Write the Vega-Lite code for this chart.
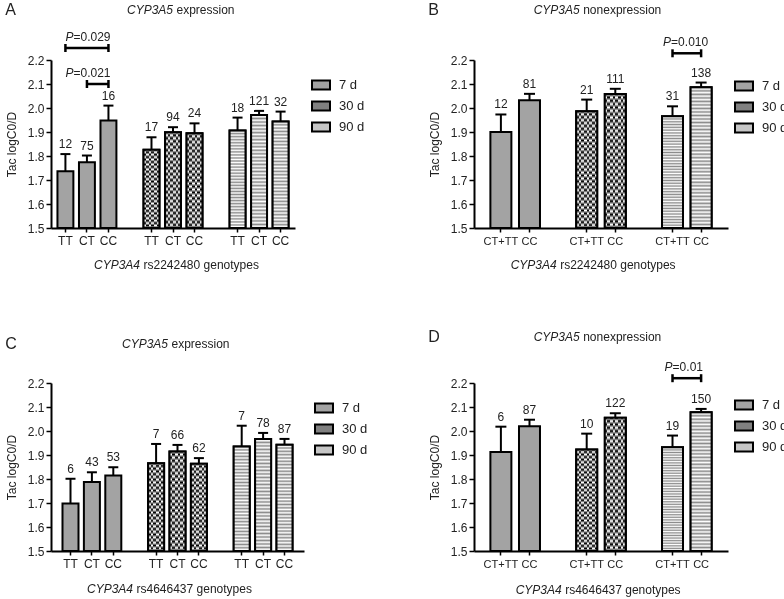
{
  "$schema": "https://vega.github.io/schema/vega-lite/v6.json",
  "background": "white",
  "padding": {"top": 2, "left": 5, "right": 5, "bottom": 5},
  "config": {
    "font": "Liberation Sans",
    "view": {"stroke": null},
    "axis": {"grid": false, "domainColor": "black", "domainWidth": 2, "tickColor": "black", "tickWidth": 1.5, "labelColor": "#222", "titleColor": "#222", "labelFont": "Liberation Sans", "titleFont": "Liberation Sans", "labelFontSize": 12, "titleFontSize": 12, "titleFontWeight": "normal", "labelOverlap": false},
    "axisY": {"tickSize": 5, "labelPadding": 2, "titlePadding": 9, "tickCount": 8, "format": ".1f"},
    "axisX": {"tickSize": 4, "labelPadding": 3, "labelAngle": 0},
    "legend": {"labelFont": "Liberation Sans", "labelFontSize": 13, "labelColor": "#222", "symbolType": "M-1,-0.5H1V0.5H-1Z", "symbolSize": 324, "symbolStrokeColor": "black", "symbolStrokeWidth": 2, "rowPadding": 2, "labelOffset": 8},
    "text": {"font": "Liberation Sans", "fontSize": 12, "color": "#222"},
    "title": {"font": "Liberation Sans", "fontSize": 16, "fontWeight": "normal", "color": "#222", "anchor": "start", "frame": "bounds", "baseline": "top", "offset": 0, "dy": 18}
  },
  "datasets": {
    "barsA": [
      {"slot": "7 d|TT", "period": "7 d", "mean": 1.736, "upper": 1.808, "n": 12},
      {"slot": "7 d|CT", "period": "7 d", "mean": 1.774, "upper": 1.802, "n": 75},
      {"slot": "7 d|CC", "period": "7 d", "mean": 1.948, "upper": 2.010, "n": 16},
      {"slot": "30 d|TT", "period": "30 d", "mean": 1.826, "upper": 1.878, "n": 17},
      {"slot": "30 d|CT", "period": "30 d", "mean": 1.899, "upper": 1.920, "n": 94},
      {"slot": "30 d|CC", "period": "30 d", "mean": 1.895, "upper": 1.936, "n": 24},
      {"slot": "90 d|TT", "period": "90 d", "mean": 1.906, "upper": 1.960, "n": 18},
      {"slot": "90 d|CT", "period": "90 d", "mean": 1.971, "upper": 1.988, "n": 121},
      {"slot": "90 d|CC", "period": "90 d", "mean": 1.944, "upper": 1.985, "n": 32}
    ],
    "barsB": [
      {"slot": "7 d|CT+TT", "period": "7 d", "mean": 1.900, "upper": 1.973, "n": 12},
      {"slot": "7 d|CC", "period": "7 d", "mean": 2.032, "upper": 2.059, "n": 81},
      {"slot": "30 d|CT+TT", "period": "30 d", "mean": 1.986, "upper": 2.035, "n": 21},
      {"slot": "30 d|CC", "period": "30 d", "mean": 2.058, "upper": 2.080, "n": 111},
      {"slot": "90 d|CT+TT", "period": "90 d", "mean": 1.966, "upper": 2.007, "n": 31},
      {"slot": "90 d|CC", "period": "90 d", "mean": 2.086, "upper": 2.106, "n": 138}
    ],
    "barsC": [
      {"slot": "7 d|TT", "period": "7 d", "mean": 1.698, "upper": 1.801, "n": 6},
      {"slot": "7 d|CT", "period": "7 d", "mean": 1.787, "upper": 1.828, "n": 43},
      {"slot": "7 d|CC", "period": "7 d", "mean": 1.815, "upper": 1.849, "n": 53},
      {"slot": "30 d|TT", "period": "30 d", "mean": 1.866, "upper": 1.946, "n": 7},
      {"slot": "30 d|CT", "period": "30 d", "mean": 1.915, "upper": 1.942, "n": 66},
      {"slot": "30 d|CC", "period": "30 d", "mean": 1.864, "upper": 1.887, "n": 62},
      {"slot": "90 d|TT", "period": "90 d", "mean": 1.935, "upper": 2.022, "n": 7},
      {"slot": "90 d|CT", "period": "90 d", "mean": 1.967, "upper": 1.992, "n": 78},
      {"slot": "90 d|CC", "period": "90 d", "mean": 1.943, "upper": 1.967, "n": 87}
    ],
    "barsD": [
      {"slot": "7 d|CT+TT", "period": "7 d", "mean": 1.913, "upper": 2.018, "n": 6},
      {"slot": "7 d|CC", "period": "7 d", "mean": 2.020, "upper": 2.047, "n": 87},
      {"slot": "30 d|CT+TT", "period": "30 d", "mean": 1.923, "upper": 1.989, "n": 10},
      {"slot": "30 d|CC", "period": "30 d", "mean": 2.055, "upper": 2.074, "n": 122},
      {"slot": "90 d|CT+TT", "period": "90 d", "mean": 1.932, "upper": 1.981, "n": 19},
      {"slot": "90 d|CC", "period": "90 d", "mean": 2.078, "upper": 2.092, "n": 150}
    ],
    "pA": [
      {"from": "7 d|TT", "to": "7 d|CC", "y": 2.25, "label": "=0.029"},
      {"from": "7 d|CT", "to": "7 d|CC", "y": 2.10, "label": "=0.021"}
    ],
    "pB": [
      {"from": "90 d|CT+TT", "to": "90 d|CC", "y": 2.228, "label": "=0.010"}
    ],
    "pD": [
      {"from": "90 d|CT+TT", "to": "90 d|CC", "y": 2.22, "label": "=0.01"}
    ]
  },
  "columns": 2,
  "spacing": {"row": 57, "column": 60},
  "resolve": {"legend": {"fill": "independent"}},
  "concat": [
    {
      "width": 244, "height": 168,
      "title": {"text": "A"},
      "layer": [
        {"data": {"name": "barsA"}, "mark": {"type": "bar", "stroke": "black", "strokeWidth": 2},
         "encoding": {
           "x": {"field": "slot", "type": "nominal", "scale": {"domain": ["7 d|TT", "7 d|CT", "7 d|CC", "g1", "30 d|TT", "30 d|CT", "30 d|CC", "g2", "90 d|TT", "90 d|CT", "90 d|CC"], "paddingInner": 0.26, "paddingOuter": 0.3}, "axis": {"title": null, "values": ["7 d|TT", "7 d|CT", "7 d|CC", "30 d|TT", "30 d|CT", "30 d|CC", "90 d|TT", "90 d|CT", "90 d|CC"], "labelExpr": "split(datum.value, '|')[1]"}},
           "y": {"field": "mean", "type": "quantitative", "scale": {"domain": [1.5, 2.2], "nice": false, "zero": false}, "axis": {"values": [1.5, 1.6, 1.7, 1.8, 1.9, 2.0, 2.1, 2.2], "format": ".1f", "title": "Tac logC0/D"}},
           "y2": {"datum": 1.5},
           "fill": {"field": "period", "type": "nominal", "scale": {"domain": ["7 d", "30 d", "90 d"], "range": ["#a3a3a3", "#808080", "#c6c6c6"]}, "legend": {"title": null, "orient": "none", "legendX": 260, "legendY": 15}}
         }},
        {"data": {"name": "barsA"}, "transform": [{"filter": "datum.period === '30 d'"}],
         "mark": {"type": "bar", "color": {"gradient": "linear", "x1": 0, "y1": 0, "x2": 1, "y2": 0, "stops": [{"offset": 0, "color": "#000"}, {"offset": 0.1667, "color": "#000"}, {"offset": 0.1667, "color": "#fff"}, {"offset": 0.3333, "color": "#fff"}, {"offset": 0.3333, "color": "#000"}, {"offset": 0.5, "color": "#000"}, {"offset": 0.5, "color": "#fff"}, {"offset": 0.6667, "color": "#fff"}, {"offset": 0.6667, "color": "#000"}, {"offset": 0.8333, "color": "#000"}, {"offset": 0.8333, "color": "#fff"}, {"offset": 1, "color": "#fff"}]}},
         "encoding": {"x": {"field": "slot", "type": "nominal"}, "y": {"field": "mean", "type": "quantitative"}, "y2": {"datum": 1.5}}},
        {"data": {"name": "barsA"}, "transform": [{"filter": "datum.period === '30 d'"}],
         "mark": {"type": "bar", "blend": "difference", "color": {"gradient": "linear", "x1": 0, "y1": 0, "x2": 0, "y2": 1, "stops": [{"offset": 0, "color": "#000"}, {"offset": 0.03125, "color": "#fff"}, {"offset": 0.0625, "color": "#000"}, {"offset": 0.09375, "color": "#fff"}, {"offset": 0.125, "color": "#000"}, {"offset": 0.15625, "color": "#fff"}, {"offset": 0.1875, "color": "#000"}, {"offset": 0.21875, "color": "#fff"}, {"offset": 0.25, "color": "#000"}, {"offset": 0.28125, "color": "#fff"}, {"offset": 0.3125, "color": "#000"}, {"offset": 0.34375, "color": "#fff"}, {"offset": 0.375, "color": "#000"}, {"offset": 0.40625, "color": "#fff"}, {"offset": 0.4375, "color": "#000"}, {"offset": 0.46875, "color": "#fff"}, {"offset": 0.5, "color": "#000"}, {"offset": 0.53125, "color": "#fff"}, {"offset": 0.5625, "color": "#000"}, {"offset": 0.59375, "color": "#fff"}, {"offset": 0.625, "color": "#000"}, {"offset": 0.65625, "color": "#fff"}, {"offset": 0.6875, "color": "#000"}, {"offset": 0.71875, "color": "#fff"}, {"offset": 0.75, "color": "#000"}, {"offset": 0.78125, "color": "#fff"}, {"offset": 0.8125, "color": "#000"}, {"offset": 0.84375, "color": "#fff"}, {"offset": 0.875, "color": "#000"}, {"offset": 0.90625, "color": "#fff"}, {"offset": 0.9375, "color": "#000"}, {"offset": 0.96875, "color": "#fff"}, {"offset": 1, "color": "#000"}]}},
         "encoding": {"x": {"field": "slot", "type": "nominal"}, "y": {"field": "mean", "type": "quantitative"}, "y2": {"datum": 1.5}}},
        {"data": {"name": "barsA"}, "transform": [{"filter": "datum.period === '30 d'"}], "mark": {"type": "bar", "fillOpacity": 0, "stroke": "black", "strokeWidth": 2},
         "encoding": {"x": {"field": "slot", "type": "nominal"}, "y": {"field": "mean", "type": "quantitative"}, "y2": {"datum": 1.5}}},
        {"data": {"name": "barsA"}, "transform": [{"filter": "datum.period === '90 d'"}],
         "mark": {"type": "bar", "stroke": "black", "strokeWidth": 2, "color": {"gradient": "linear", "x1": 0, "y1": 0, "x2": 0, "y2": 1, "stops": [{"offset": 0, "color": "#8c8c8c"}, {"offset": 0.015625, "color": "#fff"}, {"offset": 0.03125, "color": "#8c8c8c"}, {"offset": 0.046875, "color": "#fff"}, {"offset": 0.0625, "color": "#8c8c8c"}, {"offset": 0.078125, "color": "#fff"}, {"offset": 0.09375, "color": "#8c8c8c"}, {"offset": 0.109375, "color": "#fff"}, {"offset": 0.125, "color": "#8c8c8c"}, {"offset": 0.140625, "color": "#fff"}, {"offset": 0.15625, "color": "#8c8c8c"}, {"offset": 0.171875, "color": "#fff"}, {"offset": 0.1875, "color": "#8c8c8c"}, {"offset": 0.203125, "color": "#fff"}, {"offset": 0.21875, "color": "#8c8c8c"}, {"offset": 0.234375, "color": "#fff"}, {"offset": 0.25, "color": "#8c8c8c"}, {"offset": 0.265625, "color": "#fff"}, {"offset": 0.28125, "color": "#8c8c8c"}, {"offset": 0.296875, "color": "#fff"}, {"offset": 0.3125, "color": "#8c8c8c"}, {"offset": 0.328125, "color": "#fff"}, {"offset": 0.34375, "color": "#8c8c8c"}, {"offset": 0.359375, "color": "#fff"}, {"offset": 0.375, "color": "#8c8c8c"}, {"offset": 0.390625, "color": "#fff"}, {"offset": 0.40625, "color": "#8c8c8c"}, {"offset": 0.421875, "color": "#fff"}, {"offset": 0.4375, "color": "#8c8c8c"}, {"offset": 0.453125, "color": "#fff"}, {"offset": 0.46875, "color": "#8c8c8c"}, {"offset": 0.484375, "color": "#fff"}, {"offset": 0.5, "color": "#8c8c8c"}, {"offset": 0.515625, "color": "#fff"}, {"offset": 0.53125, "color": "#8c8c8c"}, {"offset": 0.546875, "color": "#fff"}, {"offset": 0.5625, "color": "#8c8c8c"}, {"offset": 0.578125, "color": "#fff"}, {"offset": 0.59375, "color": "#8c8c8c"}, {"offset": 0.609375, "color": "#fff"}, {"offset": 0.625, "color": "#8c8c8c"}, {"offset": 0.640625, "color": "#fff"}, {"offset": 0.65625, "color": "#8c8c8c"}, {"offset": 0.671875, "color": "#fff"}, {"offset": 0.6875, "color": "#8c8c8c"}, {"offset": 0.703125, "color": "#fff"}, {"offset": 0.71875, "color": "#8c8c8c"}, {"offset": 0.734375, "color": "#fff"}, {"offset": 0.75, "color": "#8c8c8c"}, {"offset": 0.765625, "color": "#fff"}, {"offset": 0.78125, "color": "#8c8c8c"}, {"offset": 0.796875, "color": "#fff"}, {"offset": 0.8125, "color": "#8c8c8c"}, {"offset": 0.828125, "color": "#fff"}, {"offset": 0.84375, "color": "#8c8c8c"}, {"offset": 0.859375, "color": "#fff"}, {"offset": 0.875, "color": "#8c8c8c"}, {"offset": 0.890625, "color": "#fff"}, {"offset": 0.90625, "color": "#8c8c8c"}, {"offset": 0.921875, "color": "#fff"}, {"offset": 0.9375, "color": "#8c8c8c"}, {"offset": 0.953125, "color": "#fff"}, {"offset": 0.96875, "color": "#8c8c8c"}, {"offset": 0.984375, "color": "#fff"}, {"offset": 1, "color": "#8c8c8c"}]}},
         "encoding": {"x": {"field": "slot", "type": "nominal"}, "y": {"field": "mean", "type": "quantitative"}, "y2": {"datum": 1.5}}},
        {"data": {"name": "barsA"}, "mark": {"type": "rule", "color": "black", "strokeWidth": 2},
         "encoding": {"x": {"field": "slot", "type": "nominal"}, "y": {"field": "mean", "type": "quantitative"}, "y2": {"field": "upper"}}},
        {"data": {"name": "barsA"}, "mark": {"type": "tick", "orient": "horizontal", "color": "black", "opacity": 1, "size": 10, "thickness": 2},
         "encoding": {"x": {"field": "slot", "type": "nominal"}, "y": {"field": "upper", "type": "quantitative"}}},
        {"data": {"name": "barsA"}, "mark": {"type": "text", "baseline": "bottom", "dy": -3},
         "encoding": {"x": {"field": "slot", "type": "nominal"}, "y": {"field": "upper", "type": "quantitative"}, "text": {"field": "n", "type": "nominal"}}},
        {"data": {"name": "pA"}, "mark": {"type": "rule", "color": "black", "strokeWidth": 2.5},
         "encoding": {"x": {"field": "from", "type": "nominal"}, "x2": {"field": "to"}, "y": {"field": "y", "type": "quantitative"}}},
        {"data": {"name": "pA"}, "transform": [{"fold": ["from", "to"], "as": ["end", "slot"]}], "mark": {"type": "tick", "orient": "vertical", "color": "black", "opacity": 1, "size": 8, "thickness": 2.5},
         "encoding": {"x": {"field": "slot", "type": "nominal"}, "y": {"field": "y", "type": "quantitative"}}},
        {"data": {"name": "pA"}, "mark": {"type": "text", "align": "right", "baseline": "bottom", "dx": -35, "dy": -4, "fontStyle": "italic"},
         "encoding": {"x": {"field": "to", "type": "nominal"}, "y": {"field": "y", "type": "quantitative"}, "text": {"value": "P"}}},
        {"data": {"name": "pA"}, "mark": {"type": "text", "align": "left", "baseline": "bottom", "dx": -35, "dy": -4},
         "encoding": {"x": {"field": "to", "type": "nominal"}, "y": {"field": "y", "type": "quantitative"}, "text": {"field": "label", "type": "nominal"}}},
        {"data": {"values": [{}]}, "mark": {"type": "text", "align": "right", "baseline": "middle", "dx": 0, "fontStyle": "italic"},
         "encoding": {"x": {"datum": "30 d|CT", "type": "nominal"}, "y": {"datum": 2.408, "type": "quantitative"}, "text": {"value": "CYP3A5"}}},
        {"data": {"values": [{}]}, "mark": {"type": "text", "align": "left", "baseline": "middle", "dx": 3.5},
         "encoding": {"x": {"datum": "30 d|CT", "type": "nominal"}, "y": {"datum": 2.408, "type": "quantitative"}, "text": {"value": "expression"}}},
        {"data": {"values": [{}]}, "mark": {"type": "text", "align": "right", "baseline": "middle", "dx": -33, "fontStyle": "italic"},
         "encoding": {"x": {"datum": "30 d|CT", "type": "nominal"}, "y": {"datum": 1.346, "type": "quantitative"}, "text": {"value": "CYP3A4"}}},
        {"data": {"values": [{}]}, "mark": {"type": "text", "align": "left", "baseline": "middle", "dx": -29.5},
         "encoding": {"x": {"datum": "30 d|CT", "type": "nominal"}, "y": {"datum": 1.346, "type": "quantitative"}, "text": {"value": "rs2242480 genotypes"}}}
      ]
    },
    {
      "width": 254, "height": 168,
      "title": {"text": "B"},
      "layer": [
        {"data": {"name": "barsB"}, "mark": {"type": "bar", "stroke": "black", "strokeWidth": 2},
         "encoding": {
           "x": {"field": "slot", "type": "nominal", "scale": {"domain": ["7 d|CT+TT", "7 d|CC", "g1", "30 d|CT+TT", "30 d|CC", "g2", "90 d|CT+TT", "90 d|CC"], "paddingInner": 0.266, "paddingOuter": 0.573}, "axis": {"title": null, "labelFontSize": 11, "values": ["7 d|CT+TT", "7 d|CC", "30 d|CT+TT", "30 d|CC", "90 d|CT+TT", "90 d|CC"], "labelExpr": "split(datum.value, '|')[1]"}},
           "y": {"field": "mean", "type": "quantitative", "scale": {"domain": [1.5, 2.2], "nice": false, "zero": false}, "axis": {"values": [1.5, 1.6, 1.7, 1.8, 1.9, 2.0, 2.1, 2.2], "format": ".1f", "title": "Tac logC0/D"}},
           "y2": {"datum": 1.5},
           "fill": {"field": "period", "type": "nominal", "scale": {"domain": ["7 d", "30 d", "90 d"], "range": ["#a3a3a3", "#808080", "#c6c6c6"]}, "legend": {"title": null, "orient": "none", "legendX": 260, "legendY": 16}}
         }},
        {"data": {"name": "barsB"}, "transform": [{"filter": "datum.period === '30 d'"}],
         "mark": {"type": "bar", "color": {"gradient": "linear", "x1": 0, "y1": 0, "x2": 1, "y2": 0, "stops": [{"offset": 0, "color": "#000"}, {"offset": 0.125, "color": "#000"}, {"offset": 0.125, "color": "#fff"}, {"offset": 0.25, "color": "#fff"}, {"offset": 0.25, "color": "#000"}, {"offset": 0.375, "color": "#000"}, {"offset": 0.375, "color": "#fff"}, {"offset": 0.5, "color": "#fff"}, {"offset": 0.5, "color": "#000"}, {"offset": 0.625, "color": "#000"}, {"offset": 0.625, "color": "#fff"}, {"offset": 0.75, "color": "#fff"}, {"offset": 0.75, "color": "#000"}, {"offset": 0.875, "color": "#000"}, {"offset": 0.875, "color": "#fff"}, {"offset": 1, "color": "#fff"}]}},
         "encoding": {"x": {"field": "slot", "type": "nominal"}, "y": {"field": "mean", "type": "quantitative"}, "y2": {"datum": 1.5}}},
        {"data": {"name": "barsB"}, "transform": [{"filter": "datum.period === '30 d'"}],
         "mark": {"type": "bar", "blend": "difference", "color": {"gradient": "linear", "x1": 0, "y1": 0, "x2": 0, "y2": 1, "stops": [{"offset": 0, "color": "#000"}, {"offset": 0.025, "color": "#fff"}, {"offset": 0.05, "color": "#000"}, {"offset": 0.075, "color": "#fff"}, {"offset": 0.1, "color": "#000"}, {"offset": 0.125, "color": "#fff"}, {"offset": 0.15, "color": "#000"}, {"offset": 0.175, "color": "#fff"}, {"offset": 0.2, "color": "#000"}, {"offset": 0.225, "color": "#fff"}, {"offset": 0.25, "color": "#000"}, {"offset": 0.275, "color": "#fff"}, {"offset": 0.3, "color": "#000"}, {"offset": 0.325, "color": "#fff"}, {"offset": 0.35, "color": "#000"}, {"offset": 0.375, "color": "#fff"}, {"offset": 0.4, "color": "#000"}, {"offset": 0.425, "color": "#fff"}, {"offset": 0.45, "color": "#000"}, {"offset": 0.475, "color": "#fff"}, {"offset": 0.5, "color": "#000"}, {"offset": 0.525, "color": "#fff"}, {"offset": 0.55, "color": "#000"}, {"offset": 0.575, "color": "#fff"}, {"offset": 0.6, "color": "#000"}, {"offset": 0.625, "color": "#fff"}, {"offset": 0.65, "color": "#000"}, {"offset": 0.675, "color": "#fff"}, {"offset": 0.7, "color": "#000"}, {"offset": 0.725, "color": "#fff"}, {"offset": 0.75, "color": "#000"}, {"offset": 0.775, "color": "#fff"}, {"offset": 0.8, "color": "#000"}, {"offset": 0.825, "color": "#fff"}, {"offset": 0.85, "color": "#000"}, {"offset": 0.875, "color": "#fff"}, {"offset": 0.9, "color": "#000"}, {"offset": 0.925, "color": "#fff"}, {"offset": 0.95, "color": "#000"}, {"offset": 0.975, "color": "#fff"}, {"offset": 1, "color": "#000"}]}},
         "encoding": {"x": {"field": "slot", "type": "nominal"}, "y": {"field": "mean", "type": "quantitative"}, "y2": {"datum": 1.5}}},
        {"data": {"name": "barsB"}, "transform": [{"filter": "datum.period === '30 d'"}], "mark": {"type": "bar", "fillOpacity": 0, "stroke": "black", "strokeWidth": 2},
         "encoding": {"x": {"field": "slot", "type": "nominal"}, "y": {"field": "mean", "type": "quantitative"}, "y2": {"datum": 1.5}}},
        {"data": {"name": "barsB"}, "transform": [{"filter": "datum.period === '90 d'"}],
         "mark": {"type": "bar", "stroke": "black", "strokeWidth": 2, "color": {"gradient": "linear", "x1": 0, "y1": 0, "x2": 0, "y2": 1, "stops": [{"offset": 0, "color": "#8c8c8c"}, {"offset": 0.0125, "color": "#fff"}, {"offset": 0.025, "color": "#8c8c8c"}, {"offset": 0.0375, "color": "#fff"}, {"offset": 0.05, "color": "#8c8c8c"}, {"offset": 0.0625, "color": "#fff"}, {"offset": 0.075, "color": "#8c8c8c"}, {"offset": 0.0875, "color": "#fff"}, {"offset": 0.1, "color": "#8c8c8c"}, {"offset": 0.1125, "color": "#fff"}, {"offset": 0.125, "color": "#8c8c8c"}, {"offset": 0.1375, "color": "#fff"}, {"offset": 0.15, "color": "#8c8c8c"}, {"offset": 0.1625, "color": "#fff"}, {"offset": 0.175, "color": "#8c8c8c"}, {"offset": 0.1875, "color": "#fff"}, {"offset": 0.2, "color": "#8c8c8c"}, {"offset": 0.2125, "color": "#fff"}, {"offset": 0.225, "color": "#8c8c8c"}, {"offset": 0.2375, "color": "#fff"}, {"offset": 0.25, "color": "#8c8c8c"}, {"offset": 0.2625, "color": "#fff"}, {"offset": 0.275, "color": "#8c8c8c"}, {"offset": 0.2875, "color": "#fff"}, {"offset": 0.3, "color": "#8c8c8c"}, {"offset": 0.3125, "color": "#fff"}, {"offset": 0.325, "color": "#8c8c8c"}, {"offset": 0.3375, "color": "#fff"}, {"offset": 0.35, "color": "#8c8c8c"}, {"offset": 0.3625, "color": "#fff"}, {"offset": 0.375, "color": "#8c8c8c"}, {"offset": 0.3875, "color": "#fff"}, {"offset": 0.4, "color": "#8c8c8c"}, {"offset": 0.4125, "color": "#fff"}, {"offset": 0.425, "color": "#8c8c8c"}, {"offset": 0.4375, "color": "#fff"}, {"offset": 0.45, "color": "#8c8c8c"}, {"offset": 0.4625, "color": "#fff"}, {"offset": 0.475, "color": "#8c8c8c"}, {"offset": 0.4875, "color": "#fff"}, {"offset": 0.5, "color": "#8c8c8c"}, {"offset": 0.5125, "color": "#fff"}, {"offset": 0.525, "color": "#8c8c8c"}, {"offset": 0.5375, "color": "#fff"}, {"offset": 0.55, "color": "#8c8c8c"}, {"offset": 0.5625, "color": "#fff"}, {"offset": 0.575, "color": "#8c8c8c"}, {"offset": 0.5875, "color": "#fff"}, {"offset": 0.6, "color": "#8c8c8c"}, {"offset": 0.6125, "color": "#fff"}, {"offset": 0.625, "color": "#8c8c8c"}, {"offset": 0.6375, "color": "#fff"}, {"offset": 0.65, "color": "#8c8c8c"}, {"offset": 0.6625, "color": "#fff"}, {"offset": 0.675, "color": "#8c8c8c"}, {"offset": 0.6875, "color": "#fff"}, {"offset": 0.7, "color": "#8c8c8c"}, {"offset": 0.7125, "color": "#fff"}, {"offset": 0.725, "color": "#8c8c8c"}, {"offset": 0.7375, "color": "#fff"}, {"offset": 0.75, "color": "#8c8c8c"}, {"offset": 0.7625, "color": "#fff"}, {"offset": 0.775, "color": "#8c8c8c"}, {"offset": 0.7875, "color": "#fff"}, {"offset": 0.8, "color": "#8c8c8c"}, {"offset": 0.8125, "color": "#fff"}, {"offset": 0.825, "color": "#8c8c8c"}, {"offset": 0.8375, "color": "#fff"}, {"offset": 0.85, "color": "#8c8c8c"}, {"offset": 0.8625, "color": "#fff"}, {"offset": 0.875, "color": "#8c8c8c"}, {"offset": 0.8875, "color": "#fff"}, {"offset": 0.9, "color": "#8c8c8c"}, {"offset": 0.9125, "color": "#fff"}, {"offset": 0.925, "color": "#8c8c8c"}, {"offset": 0.9375, "color": "#fff"}, {"offset": 0.95, "color": "#8c8c8c"}, {"offset": 0.9625, "color": "#fff"}, {"offset": 0.975, "color": "#8c8c8c"}, {"offset": 0.9875, "color": "#fff"}, {"offset": 1, "color": "#8c8c8c"}]}},
         "encoding": {"x": {"field": "slot", "type": "nominal"}, "y": {"field": "mean", "type": "quantitative"}, "y2": {"datum": 1.5}}},
        {"data": {"name": "barsB"}, "mark": {"type": "rule", "color": "black", "strokeWidth": 2},
         "encoding": {"x": {"field": "slot", "type": "nominal"}, "y": {"field": "mean", "type": "quantitative"}, "y2": {"field": "upper"}}},
        {"data": {"name": "barsB"}, "mark": {"type": "tick", "orient": "horizontal", "color": "black", "opacity": 1, "size": 11, "thickness": 2},
         "encoding": {"x": {"field": "slot", "type": "nominal"}, "y": {"field": "upper", "type": "quantitative"}}},
        {"data": {"name": "barsB"}, "mark": {"type": "text", "baseline": "bottom", "dy": -3},
         "encoding": {"x": {"field": "slot", "type": "nominal"}, "y": {"field": "upper", "type": "quantitative"}, "text": {"field": "n", "type": "nominal"}}},
        {"data": {"name": "pB"}, "mark": {"type": "rule", "color": "black", "strokeWidth": 2.5},
         "encoding": {"x": {"field": "from", "type": "nominal"}, "x2": {"field": "to"}, "y": {"field": "y", "type": "quantitative"}}},
        {"data": {"name": "pB"}, "transform": [{"fold": ["from", "to"], "as": ["end", "slot"]}], "mark": {"type": "tick", "orient": "vertical", "color": "black", "opacity": 1, "size": 8, "thickness": 2.5},
         "encoding": {"x": {"field": "slot", "type": "nominal"}, "y": {"field": "y", "type": "quantitative"}}},
        {"data": {"name": "pB"}, "mark": {"type": "text", "align": "right", "baseline": "bottom", "dx": -30, "dy": -4, "fontStyle": "italic"},
         "encoding": {"x": {"field": "to", "type": "nominal"}, "y": {"field": "y", "type": "quantitative"}, "text": {"value": "P"}}},
        {"data": {"name": "pB"}, "mark": {"type": "text", "align": "left", "baseline": "bottom", "dx": -30, "dy": -4},
         "encoding": {"x": {"field": "to", "type": "nominal"}, "y": {"field": "y", "type": "quantitative"}, "text": {"field": "label", "type": "nominal"}}},
        {"data": {"values": [{}]}, "mark": {"type": "text", "align": "right", "baseline": "middle", "dx": -7, "fontStyle": "italic"},
         "encoding": {"x": {"datum": "30 d|CT+TT", "type": "nominal"}, "y": {"datum": 2.408, "type": "quantitative"}, "text": {"value": "CYP3A5"}}},
        {"data": {"values": [{}]}, "mark": {"type": "text", "align": "left", "baseline": "middle", "dx": -3.5},
         "encoding": {"x": {"datum": "30 d|CT+TT", "type": "nominal"}, "y": {"datum": 2.408, "type": "quantitative"}, "text": {"value": "nonexpression"}}},
        {"data": {"values": [{}]}, "mark": {"type": "text", "align": "right", "baseline": "middle", "dx": -30, "fontStyle": "italic"},
         "encoding": {"x": {"datum": "30 d|CT+TT", "type": "nominal"}, "y": {"datum": 1.346, "type": "quantitative"}, "text": {"value": "CYP3A4"}}},
        {"data": {"values": [{}]}, "mark": {"type": "text", "align": "left", "baseline": "middle", "dx": -26.5},
         "encoding": {"x": {"datum": "30 d|CT+TT", "type": "nominal"}, "y": {"datum": 1.346, "type": "quantitative"}, "text": {"value": "rs2242480 genotypes"}}}
      ]
    },
    {
      "width": 253, "height": 168,
      "title": {"text": "C"},
      "layer": [
        {"data": {"name": "barsC"}, "mark": {"type": "bar", "stroke": "black", "strokeWidth": 2},
         "encoding": {
           "x": {"field": "slot", "type": "nominal", "scale": {"domain": ["7 d|TT", "7 d|CT", "7 d|CC", "g1", "30 d|TT", "30 d|CT", "30 d|CC", "g2", "90 d|TT", "90 d|CT", "90 d|CC"], "paddingInner": 0.252, "paddingOuter": 0.537}, "axis": {"title": null, "values": ["7 d|TT", "7 d|CT", "7 d|CC", "30 d|TT", "30 d|CT", "30 d|CC", "90 d|TT", "90 d|CT", "90 d|CC"], "labelExpr": "split(datum.value, '|')[1]"}},
           "y": {"field": "mean", "type": "quantitative", "scale": {"domain": [1.5, 2.2], "nice": false, "zero": false}, "axis": {"values": [1.5, 1.6, 1.7, 1.8, 1.9, 2.0, 2.1, 2.2], "format": ".1f", "title": "Tac logC0/D"}},
           "y2": {"datum": 1.5},
           "fill": {"field": "period", "type": "nominal", "scale": {"domain": ["7 d", "30 d", "90 d"], "range": ["#a3a3a3", "#808080", "#c6c6c6"]}, "legend": {"title": null, "orient": "none", "legendX": 263, "legendY": 15}}
         }},
        {"data": {"name": "barsC"}, "transform": [{"filter": "datum.period === '30 d'"}],
         "mark": {"type": "bar", "color": {"gradient": "linear", "x1": 0, "y1": 0, "x2": 1, "y2": 0, "stops": [{"offset": 0, "color": "#000"}, {"offset": 0.1667, "color": "#000"}, {"offset": 0.1667, "color": "#fff"}, {"offset": 0.3333, "color": "#fff"}, {"offset": 0.3333, "color": "#000"}, {"offset": 0.5, "color": "#000"}, {"offset": 0.5, "color": "#fff"}, {"offset": 0.6667, "color": "#fff"}, {"offset": 0.6667, "color": "#000"}, {"offset": 0.8333, "color": "#000"}, {"offset": 0.8333, "color": "#fff"}, {"offset": 1, "color": "#fff"}]}},
         "encoding": {"x": {"field": "slot", "type": "nominal"}, "y": {"field": "mean", "type": "quantitative"}, "y2": {"datum": 1.5}}},
        {"data": {"name": "barsC"}, "transform": [{"filter": "datum.period === '30 d'"}],
         "mark": {"type": "bar", "blend": "difference", "color": {"gradient": "linear", "x1": 0, "y1": 0, "x2": 0, "y2": 1, "stops": [{"offset": 0, "color": "#000"}, {"offset": 0.03125, "color": "#fff"}, {"offset": 0.0625, "color": "#000"}, {"offset": 0.09375, "color": "#fff"}, {"offset": 0.125, "color": "#000"}, {"offset": 0.15625, "color": "#fff"}, {"offset": 0.1875, "color": "#000"}, {"offset": 0.21875, "color": "#fff"}, {"offset": 0.25, "color": "#000"}, {"offset": 0.28125, "color": "#fff"}, {"offset": 0.3125, "color": "#000"}, {"offset": 0.34375, "color": "#fff"}, {"offset": 0.375, "color": "#000"}, {"offset": 0.40625, "color": "#fff"}, {"offset": 0.4375, "color": "#000"}, {"offset": 0.46875, "color": "#fff"}, {"offset": 0.5, "color": "#000"}, {"offset": 0.53125, "color": "#fff"}, {"offset": 0.5625, "color": "#000"}, {"offset": 0.59375, "color": "#fff"}, {"offset": 0.625, "color": "#000"}, {"offset": 0.65625, "color": "#fff"}, {"offset": 0.6875, "color": "#000"}, {"offset": 0.71875, "color": "#fff"}, {"offset": 0.75, "color": "#000"}, {"offset": 0.78125, "color": "#fff"}, {"offset": 0.8125, "color": "#000"}, {"offset": 0.84375, "color": "#fff"}, {"offset": 0.875, "color": "#000"}, {"offset": 0.90625, "color": "#fff"}, {"offset": 0.9375, "color": "#000"}, {"offset": 0.96875, "color": "#fff"}, {"offset": 1, "color": "#000"}]}},
         "encoding": {"x": {"field": "slot", "type": "nominal"}, "y": {"field": "mean", "type": "quantitative"}, "y2": {"datum": 1.5}}},
        {"data": {"name": "barsC"}, "transform": [{"filter": "datum.period === '30 d'"}], "mark": {"type": "bar", "fillOpacity": 0, "stroke": "black", "strokeWidth": 2},
         "encoding": {"x": {"field": "slot", "type": "nominal"}, "y": {"field": "mean", "type": "quantitative"}, "y2": {"datum": 1.5}}},
        {"data": {"name": "barsC"}, "transform": [{"filter": "datum.period === '90 d'"}],
         "mark": {"type": "bar", "stroke": "black", "strokeWidth": 2, "color": {"gradient": "linear", "x1": 0, "y1": 0, "x2": 0, "y2": 1, "stops": [{"offset": 0, "color": "#8c8c8c"}, {"offset": 0.015625, "color": "#fff"}, {"offset": 0.03125, "color": "#8c8c8c"}, {"offset": 0.046875, "color": "#fff"}, {"offset": 0.0625, "color": "#8c8c8c"}, {"offset": 0.078125, "color": "#fff"}, {"offset": 0.09375, "color": "#8c8c8c"}, {"offset": 0.109375, "color": "#fff"}, {"offset": 0.125, "color": "#8c8c8c"}, {"offset": 0.140625, "color": "#fff"}, {"offset": 0.15625, "color": "#8c8c8c"}, {"offset": 0.171875, "color": "#fff"}, {"offset": 0.1875, "color": "#8c8c8c"}, {"offset": 0.203125, "color": "#fff"}, {"offset": 0.21875, "color": "#8c8c8c"}, {"offset": 0.234375, "color": "#fff"}, {"offset": 0.25, "color": "#8c8c8c"}, {"offset": 0.265625, "color": "#fff"}, {"offset": 0.28125, "color": "#8c8c8c"}, {"offset": 0.296875, "color": "#fff"}, {"offset": 0.3125, "color": "#8c8c8c"}, {"offset": 0.328125, "color": "#fff"}, {"offset": 0.34375, "color": "#8c8c8c"}, {"offset": 0.359375, "color": "#fff"}, {"offset": 0.375, "color": "#8c8c8c"}, {"offset": 0.390625, "color": "#fff"}, {"offset": 0.40625, "color": "#8c8c8c"}, {"offset": 0.421875, "color": "#fff"}, {"offset": 0.4375, "color": "#8c8c8c"}, {"offset": 0.453125, "color": "#fff"}, {"offset": 0.46875, "color": "#8c8c8c"}, {"offset": 0.484375, "color": "#fff"}, {"offset": 0.5, "color": "#8c8c8c"}, {"offset": 0.515625, "color": "#fff"}, {"offset": 0.53125, "color": "#8c8c8c"}, {"offset": 0.546875, "color": "#fff"}, {"offset": 0.5625, "color": "#8c8c8c"}, {"offset": 0.578125, "color": "#fff"}, {"offset": 0.59375, "color": "#8c8c8c"}, {"offset": 0.609375, "color": "#fff"}, {"offset": 0.625, "color": "#8c8c8c"}, {"offset": 0.640625, "color": "#fff"}, {"offset": 0.65625, "color": "#8c8c8c"}, {"offset": 0.671875, "color": "#fff"}, {"offset": 0.6875, "color": "#8c8c8c"}, {"offset": 0.703125, "color": "#fff"}, {"offset": 0.71875, "color": "#8c8c8c"}, {"offset": 0.734375, "color": "#fff"}, {"offset": 0.75, "color": "#8c8c8c"}, {"offset": 0.765625, "color": "#fff"}, {"offset": 0.78125, "color": "#8c8c8c"}, {"offset": 0.796875, "color": "#fff"}, {"offset": 0.8125, "color": "#8c8c8c"}, {"offset": 0.828125, "color": "#fff"}, {"offset": 0.84375, "color": "#8c8c8c"}, {"offset": 0.859375, "color": "#fff"}, {"offset": 0.875, "color": "#8c8c8c"}, {"offset": 0.890625, "color": "#fff"}, {"offset": 0.90625, "color": "#8c8c8c"}, {"offset": 0.921875, "color": "#fff"}, {"offset": 0.9375, "color": "#8c8c8c"}, {"offset": 0.953125, "color": "#fff"}, {"offset": 0.96875, "color": "#8c8c8c"}, {"offset": 0.984375, "color": "#fff"}, {"offset": 1, "color": "#8c8c8c"}]}},
         "encoding": {"x": {"field": "slot", "type": "nominal"}, "y": {"field": "mean", "type": "quantitative"}, "y2": {"datum": 1.5}}},
        {"data": {"name": "barsC"}, "mark": {"type": "rule", "color": "black", "strokeWidth": 2},
         "encoding": {"x": {"field": "slot", "type": "nominal"}, "y": {"field": "mean", "type": "quantitative"}, "y2": {"field": "upper"}}},
        {"data": {"name": "barsC"}, "mark": {"type": "tick", "orient": "horizontal", "color": "black", "opacity": 1, "size": 10, "thickness": 2},
         "encoding": {"x": {"field": "slot", "type": "nominal"}, "y": {"field": "upper", "type": "quantitative"}}},
        {"data": {"name": "barsC"}, "mark": {"type": "text", "baseline": "bottom", "dy": -3},
         "encoding": {"x": {"field": "slot", "type": "nominal"}, "y": {"field": "upper", "type": "quantitative"}, "text": {"field": "n", "type": "nominal"}}},
        {"data": {"values": [{}]}, "mark": {"type": "text", "align": "right", "baseline": "middle", "dx": -9.5, "fontStyle": "italic"},
         "encoding": {"x": {"datum": "30 d|CT", "type": "nominal"}, "y": {"datum": 2.3625, "type": "quantitative"}, "text": {"value": "CYP3A5"}}},
        {"data": {"values": [{}]}, "mark": {"type": "text", "align": "left", "baseline": "middle", "dx": -6},
         "encoding": {"x": {"datum": "30 d|CT", "type": "nominal"}, "y": {"datum": 2.3625, "type": "quantitative"}, "text": {"value": "expression"}}},
        {"data": {"values": [{}]}, "mark": {"type": "text", "align": "right", "baseline": "middle", "dx": -44.5, "fontStyle": "italic"},
         "encoding": {"x": {"datum": "30 d|CT", "type": "nominal"}, "y": {"datum": 1.342, "type": "quantitative"}, "text": {"value": "CYP3A4"}}},
        {"data": {"values": [{}]}, "mark": {"type": "text", "align": "left", "baseline": "middle", "dx": -41},
         "encoding": {"x": {"datum": "30 d|CT", "type": "nominal"}, "y": {"datum": 1.342, "type": "quantitative"}, "text": {"value": "rs4646437 genotypes"}}}
      ]
    },
    {
      "width": 254, "height": 168,
      "title": {"text": "D"},
      "layer": [
        {"data": {"name": "barsD"}, "mark": {"type": "bar", "stroke": "black", "strokeWidth": 2},
         "encoding": {
           "x": {"field": "slot", "type": "nominal", "scale": {"domain": ["7 d|CT+TT", "7 d|CC", "g1", "30 d|CT+TT", "30 d|CC", "g2", "90 d|CT+TT", "90 d|CC"], "paddingInner": 0.266, "paddingOuter": 0.573}, "axis": {"title": null, "labelFontSize": 11, "values": ["7 d|CT+TT", "7 d|CC", "30 d|CT+TT", "30 d|CC", "90 d|CT+TT", "90 d|CC"], "labelExpr": "split(datum.value, '|')[1]"}},
           "y": {"field": "mean", "type": "quantitative", "scale": {"domain": [1.5, 2.2], "nice": false, "zero": false}, "axis": {"values": [1.5, 1.6, 1.7, 1.8, 1.9, 2.0, 2.1, 2.2], "format": ".1f", "title": "Tac logC0/D"}},
           "y2": {"datum": 1.5},
           "fill": {"field": "period", "type": "nominal", "scale": {"domain": ["7 d", "30 d", "90 d"], "range": ["#a3a3a3", "#808080", "#c6c6c6"]}, "legend": {"title": null, "orient": "none", "legendX": 260, "legendY": 12}}
         }},
        {"data": {"name": "barsD"}, "transform": [{"filter": "datum.period === '30 d'"}],
         "mark": {"type": "bar", "color": {"gradient": "linear", "x1": 0, "y1": 0, "x2": 1, "y2": 0, "stops": [{"offset": 0, "color": "#000"}, {"offset": 0.125, "color": "#000"}, {"offset": 0.125, "color": "#fff"}, {"offset": 0.25, "color": "#fff"}, {"offset": 0.25, "color": "#000"}, {"offset": 0.375, "color": "#000"}, {"offset": 0.375, "color": "#fff"}, {"offset": 0.5, "color": "#fff"}, {"offset": 0.5, "color": "#000"}, {"offset": 0.625, "color": "#000"}, {"offset": 0.625, "color": "#fff"}, {"offset": 0.75, "color": "#fff"}, {"offset": 0.75, "color": "#000"}, {"offset": 0.875, "color": "#000"}, {"offset": 0.875, "color": "#fff"}, {"offset": 1, "color": "#fff"}]}},
         "encoding": {"x": {"field": "slot", "type": "nominal"}, "y": {"field": "mean", "type": "quantitative"}, "y2": {"datum": 1.5}}},
        {"data": {"name": "barsD"}, "transform": [{"filter": "datum.period === '30 d'"}],
         "mark": {"type": "bar", "blend": "difference", "color": {"gradient": "linear", "x1": 0, "y1": 0, "x2": 0, "y2": 1, "stops": [{"offset": 0, "color": "#000"}, {"offset": 0.025, "color": "#fff"}, {"offset": 0.05, "color": "#000"}, {"offset": 0.075, "color": "#fff"}, {"offset": 0.1, "color": "#000"}, {"offset": 0.125, "color": "#fff"}, {"offset": 0.15, "color": "#000"}, {"offset": 0.175, "color": "#fff"}, {"offset": 0.2, "color": "#000"}, {"offset": 0.225, "color": "#fff"}, {"offset": 0.25, "color": "#000"}, {"offset": 0.275, "color": "#fff"}, {"offset": 0.3, "color": "#000"}, {"offset": 0.325, "color": "#fff"}, {"offset": 0.35, "color": "#000"}, {"offset": 0.375, "color": "#fff"}, {"offset": 0.4, "color": "#000"}, {"offset": 0.425, "color": "#fff"}, {"offset": 0.45, "color": "#000"}, {"offset": 0.475, "color": "#fff"}, {"offset": 0.5, "color": "#000"}, {"offset": 0.525, "color": "#fff"}, {"offset": 0.55, "color": "#000"}, {"offset": 0.575, "color": "#fff"}, {"offset": 0.6, "color": "#000"}, {"offset": 0.625, "color": "#fff"}, {"offset": 0.65, "color": "#000"}, {"offset": 0.675, "color": "#fff"}, {"offset": 0.7, "color": "#000"}, {"offset": 0.725, "color": "#fff"}, {"offset": 0.75, "color": "#000"}, {"offset": 0.775, "color": "#fff"}, {"offset": 0.8, "color": "#000"}, {"offset": 0.825, "color": "#fff"}, {"offset": 0.85, "color": "#000"}, {"offset": 0.875, "color": "#fff"}, {"offset": 0.9, "color": "#000"}, {"offset": 0.925, "color": "#fff"}, {"offset": 0.95, "color": "#000"}, {"offset": 0.975, "color": "#fff"}, {"offset": 1, "color": "#000"}]}},
         "encoding": {"x": {"field": "slot", "type": "nominal"}, "y": {"field": "mean", "type": "quantitative"}, "y2": {"datum": 1.5}}},
        {"data": {"name": "barsD"}, "transform": [{"filter": "datum.period === '30 d'"}], "mark": {"type": "bar", "fillOpacity": 0, "stroke": "black", "strokeWidth": 2},
         "encoding": {"x": {"field": "slot", "type": "nominal"}, "y": {"field": "mean", "type": "quantitative"}, "y2": {"datum": 1.5}}},
        {"data": {"name": "barsD"}, "transform": [{"filter": "datum.period === '90 d'"}],
         "mark": {"type": "bar", "stroke": "black", "strokeWidth": 2, "color": {"gradient": "linear", "x1": 0, "y1": 0, "x2": 0, "y2": 1, "stops": [{"offset": 0, "color": "#8c8c8c"}, {"offset": 0.0125, "color": "#fff"}, {"offset": 0.025, "color": "#8c8c8c"}, {"offset": 0.0375, "color": "#fff"}, {"offset": 0.05, "color": "#8c8c8c"}, {"offset": 0.0625, "color": "#fff"}, {"offset": 0.075, "color": "#8c8c8c"}, {"offset": 0.0875, "color": "#fff"}, {"offset": 0.1, "color": "#8c8c8c"}, {"offset": 0.1125, "color": "#fff"}, {"offset": 0.125, "color": "#8c8c8c"}, {"offset": 0.1375, "color": "#fff"}, {"offset": 0.15, "color": "#8c8c8c"}, {"offset": 0.1625, "color": "#fff"}, {"offset": 0.175, "color": "#8c8c8c"}, {"offset": 0.1875, "color": "#fff"}, {"offset": 0.2, "color": "#8c8c8c"}, {"offset": 0.2125, "color": "#fff"}, {"offset": 0.225, "color": "#8c8c8c"}, {"offset": 0.2375, "color": "#fff"}, {"offset": 0.25, "color": "#8c8c8c"}, {"offset": 0.2625, "color": "#fff"}, {"offset": 0.275, "color": "#8c8c8c"}, {"offset": 0.2875, "color": "#fff"}, {"offset": 0.3, "color": "#8c8c8c"}, {"offset": 0.3125, "color": "#fff"}, {"offset": 0.325, "color": "#8c8c8c"}, {"offset": 0.3375, "color": "#fff"}, {"offset": 0.35, "color": "#8c8c8c"}, {"offset": 0.3625, "color": "#fff"}, {"offset": 0.375, "color": "#8c8c8c"}, {"offset": 0.3875, "color": "#fff"}, {"offset": 0.4, "color": "#8c8c8c"}, {"offset": 0.4125, "color": "#fff"}, {"offset": 0.425, "color": "#8c8c8c"}, {"offset": 0.4375, "color": "#fff"}, {"offset": 0.45, "color": "#8c8c8c"}, {"offset": 0.4625, "color": "#fff"}, {"offset": 0.475, "color": "#8c8c8c"}, {"offset": 0.4875, "color": "#fff"}, {"offset": 0.5, "color": "#8c8c8c"}, {"offset": 0.5125, "color": "#fff"}, {"offset": 0.525, "color": "#8c8c8c"}, {"offset": 0.5375, "color": "#fff"}, {"offset": 0.55, "color": "#8c8c8c"}, {"offset": 0.5625, "color": "#fff"}, {"offset": 0.575, "color": "#8c8c8c"}, {"offset": 0.5875, "color": "#fff"}, {"offset": 0.6, "color": "#8c8c8c"}, {"offset": 0.6125, "color": "#fff"}, {"offset": 0.625, "color": "#8c8c8c"}, {"offset": 0.6375, "color": "#fff"}, {"offset": 0.65, "color": "#8c8c8c"}, {"offset": 0.6625, "color": "#fff"}, {"offset": 0.675, "color": "#8c8c8c"}, {"offset": 0.6875, "color": "#fff"}, {"offset": 0.7, "color": "#8c8c8c"}, {"offset": 0.7125, "color": "#fff"}, {"offset": 0.725, "color": "#8c8c8c"}, {"offset": 0.7375, "color": "#fff"}, {"offset": 0.75, "color": "#8c8c8c"}, {"offset": 0.7625, "color": "#fff"}, {"offset": 0.775, "color": "#8c8c8c"}, {"offset": 0.7875, "color": "#fff"}, {"offset": 0.8, "color": "#8c8c8c"}, {"offset": 0.8125, "color": "#fff"}, {"offset": 0.825, "color": "#8c8c8c"}, {"offset": 0.8375, "color": "#fff"}, {"offset": 0.85, "color": "#8c8c8c"}, {"offset": 0.8625, "color": "#fff"}, {"offset": 0.875, "color": "#8c8c8c"}, {"offset": 0.8875, "color": "#fff"}, {"offset": 0.9, "color": "#8c8c8c"}, {"offset": 0.9125, "color": "#fff"}, {"offset": 0.925, "color": "#8c8c8c"}, {"offset": 0.9375, "color": "#fff"}, {"offset": 0.95, "color": "#8c8c8c"}, {"offset": 0.9625, "color": "#fff"}, {"offset": 0.975, "color": "#8c8c8c"}, {"offset": 0.9875, "color": "#fff"}, {"offset": 1, "color": "#8c8c8c"}]}},
         "encoding": {"x": {"field": "slot", "type": "nominal"}, "y": {"field": "mean", "type": "quantitative"}, "y2": {"datum": 1.5}}},
        {"data": {"name": "barsD"}, "mark": {"type": "rule", "color": "black", "strokeWidth": 2},
         "encoding": {"x": {"field": "slot", "type": "nominal"}, "y": {"field": "mean", "type": "quantitative"}, "y2": {"field": "upper"}}},
        {"data": {"name": "barsD"}, "mark": {"type": "tick", "orient": "horizontal", "color": "black", "opacity": 1, "size": 11, "thickness": 2},
         "encoding": {"x": {"field": "slot", "type": "nominal"}, "y": {"field": "upper", "type": "quantitative"}}},
        {"data": {"name": "barsD"}, "mark": {"type": "text", "baseline": "bottom", "dy": -3},
         "encoding": {"x": {"field": "slot", "type": "nominal"}, "y": {"field": "upper", "type": "quantitative"}, "text": {"field": "n", "type": "nominal"}}},
        {"data": {"name": "pD"}, "mark": {"type": "rule", "color": "black", "strokeWidth": 2.5},
         "encoding": {"x": {"field": "from", "type": "nominal"}, "x2": {"field": "to"}, "y": {"field": "y", "type": "quantitative"}}},
        {"data": {"name": "pD"}, "transform": [{"fold": ["from", "to"], "as": ["end", "slot"]}], "mark": {"type": "tick", "orient": "vertical", "color": "black", "opacity": 1, "size": 8, "thickness": 2.5},
         "encoding": {"x": {"field": "slot", "type": "nominal"}, "y": {"field": "y", "type": "quantitative"}}},
        {"data": {"name": "pD"}, "mark": {"type": "text", "align": "right", "baseline": "bottom", "dx": -28.5, "dy": -4, "fontStyle": "italic"},
         "encoding": {"x": {"field": "to", "type": "nominal"}, "y": {"field": "y", "type": "quantitative"}, "text": {"value": "P"}}},
        {"data": {"name": "pD"}, "mark": {"type": "text", "align": "left", "baseline": "bottom", "dx": -28.5, "dy": -4},
         "encoding": {"x": {"field": "to", "type": "nominal"}, "y": {"field": "y", "type": "quantitative"}, "text": {"field": "label", "type": "nominal"}}},
        {"data": {"values": [{}]}, "mark": {"type": "text", "align": "right", "baseline": "middle", "dx": -7, "fontStyle": "italic"},
         "encoding": {"x": {"datum": "30 d|CT+TT", "type": "nominal"}, "y": {"datum": 2.392, "type": "quantitative"}, "text": {"value": "CYP3A5"}}},
        {"data": {"values": [{}]}, "mark": {"type": "text", "align": "left", "baseline": "middle", "dx": -3.5},
         "encoding": {"x": {"datum": "30 d|CT+TT", "type": "nominal"}, "y": {"datum": 2.392, "type": "quantitative"}, "text": {"value": "nonexpression"}}},
        {"data": {"values": [{}]}, "mark": {"type": "text", "align": "right", "baseline": "middle", "dx": -25, "fontStyle": "italic"},
         "encoding": {"x": {"datum": "30 d|CT+TT", "type": "nominal"}, "y": {"datum": 1.3375, "type": "quantitative"}, "text": {"value": "CYP3A4"}}},
        {"data": {"values": [{}]}, "mark": {"type": "text", "align": "left", "baseline": "middle", "dx": -21.5},
         "encoding": {"x": {"datum": "30 d|CT+TT", "type": "nominal"}, "y": {"datum": 1.3375, "type": "quantitative"}, "text": {"value": "rs4646437 genotypes"}}}
      ]
    }
  ]
}
